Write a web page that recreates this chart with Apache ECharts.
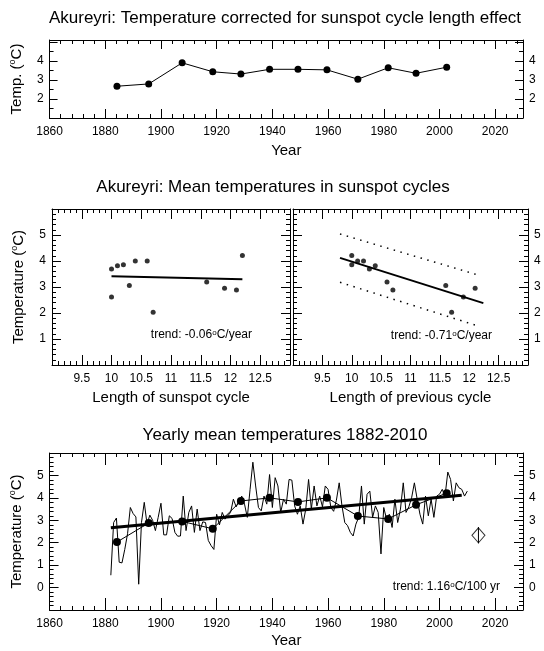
<!DOCTYPE html>
<html>
<head>
<meta charset="utf-8">
<title>Akureyri temperatures</title>
<script src="https://cdn.jsdelivr.net/npm/echarts@6/dist/echarts.min.js"></script>
<style>
html, body { margin: 0; padding: 0; background: #fff; }
#chart { width: 544px; height: 651px; }
</style>
</head>
<body>
<div id="chart"></div>
<script>
// middle year of each sunspot cycle (cycles 12..23)
var cycleYears = [1884.2, 1895.6, 1907.6, 1918.6, 1928.7, 1939.0, 1949.2, 1959.6, 1970.7, 1981.6, 1991.6, 2002.6];
// temperature corrected for cycle length effect
var cycleCorrected = [2.67, 2.79, 3.90, 3.43, 3.31, 3.56, 3.56, 3.53, 3.04, 3.64, 3.35, 3.67];
// mean temperature in each cycle
var cycleMeans = [2.03, 2.88, 2.95, 2.62, 3.86, 4.00, 3.82, 4.00, 3.19, 3.06, 3.69, 4.21];
// length of the cycle and of the previous cycle (years)
var cycleLength = [10.7, 12.1, 11.9, 10.0, 10.2, 10.4, 10.1, 10.6, 11.6, 10.3, 10.0, 12.2];
var prevLength = [11.7, 10.7, 12.1, 11.9, 10.0, 10.2, 10.4, 10.1, 10.6, 11.6, 10.3, 10.0];

// yearly mean temperatures 1882-2010
var firstYear = 1882;
var yearlyTemps = [
  0.55, 2.90, 3.10, 1.13, 1.10, 1.70, 2.40, 3.57, 3.30, 3.15,   // 1882-1891
  0.15, 2.90, 3.80, 2.83, 3.23, 3.00, 2.54, 3.13, 3.76, 2.35,   // 1892-1901
  2.35, 3.20, 3.08, 2.46, 2.29, 2.30, 4.08, 2.54, 3.35, 3.64,   // 1902-1911
  2.46, 3.50, 2.54, 2.93, 2.90, 2.10, 1.87, 1.70, 3.27, 2.79,   // 1912-1921
  3.35, 3.05, 3.20, 3.35, 3.94, 3.60, 3.86, 4.08, 3.72, 3.13,   // 1922-1931
  4.38, 5.59, 4.53, 3.57, 3.42, 4.08, 3.72, 5.04, 3.57, 4.90,   // 1932-1941
  4.53, 3.35, 3.94, 3.72, 4.82, 4.79, 3.64, 3.27, 3.64, 2.83,   // 1942-1951
  3.50, 4.82, 3.50, 4.53, 3.64, 4.08, 3.60, 4.53, 4.38, 3.57,   // 1952-1961
  3.40, 3.90, 4.67, 3.64, 2.90, 2.76, 2.46, 2.30, 2.83, 3.13,   // 1962-1971
  4.53, 2.83, 4.16, 4.30, 3.13, 3.64, 3.35, 1.50, 3.57, 3.05,   // 1972-1981
  3.27, 2.68, 3.94, 2.90, 3.50, 4.67, 3.35, 3.60, 4.00, 4.67,   // 1982-1991
  3.94, 3.27, 2.83, 4.08, 3.20, 3.94, 3.13, 4.08, 4.16, 4.38,   // 1992-2001
  4.08, 5.15, 4.82, 3.86, 4.67, 4.45, 4.38, 4.08, 4.30          // 2002-2010
];

// fitted lines
var trendLength = [[10.0, 3.41], [12.2, 3.30]];
var trendPrev = [[9.8, 4.12], [12.24, 2.38]];
var bandUpper = [[9.8, 5.04], [12.15, 3.46]];
var bandLower = [[9.8, 3.18], [12.15, 1.50]];
var trendYearly = [[1882, 2.67], [2008, 4.12]];
// open diamond with its bar
var marker = [[2014, 2.33]];
var markerBar = [[2014, 1.97], [2014, 2.70]];

var FONT = '"Liberation Sans", Arial, Helvetica, sans-serif';

function pairs(xs, ys) {
    return xs.map(function (x, i) { return [x, ys[i]]; });
}
var yearlyData = yearlyTemps.map(function (v, i) { return [firstYear + i, v]; });

var xAxes = [];
var yAxes = [];
var supRich = {
    s: { fontSize: 9, fontFamily: FONT, lineHeight: 9, verticalAlign: 'top', color: '#000' }
};
// long dash = solid tick; keeps the ticks out of zrender's path batching
var tickLine = { color: '#000', width: 1, type: [40, 1] };

// box of axes: main ticks + minor ticks on both sides, labels where asked
// axes sit on their own canvas layer (zlevel 1)
function addAxes(list, dim, grid, o) {
    var sides = dim === 'x' ? ['bottom', 'top'] : ['left', 'right'];
    var first = list.length;
    sides.forEach(function (pos, k) {
        list.push({
            type: 'value',
            gridIndex: grid,
            zlevel: 1,
            position: pos,
            min: o.min,
            max: o.max,
            interval: o.major,
            name: k === 0 ? (o.name || '') : '',
            nameLocation: 'middle',
            nameGap: o.nameGap,
            nameRotate: dim === 'y' ? 90 : 0,
            nameTextStyle: { color: '#000', fontSize: 15, fontFamily: FONT, lineHeight: 18, rich: supRich },
            axisLine: { show: true, onZero: false, lineStyle: { color: '#000', width: 1 } },
            axisTick: { show: true, inside: true, length: o.tick, lineStyle: tickLine },
            axisLabel: {
                show: !!o.labels[k],
                margin: o.margin,
                color: '#000',
                fontSize: 12,
                fontFamily: FONT,
                formatter: function (v) { return o.show(v) ? String(v) : ''; }
            },
            splitLine: { show: false }
        });
        // minor ticks
        list.push({
            type: 'value',
            gridIndex: grid,
            zlevel: 1,
            position: pos,
            min: o.min,
            max: o.max,
            interval: o.minor,
            axisLine: { show: false, onZero: false },
            axisTick: { show: true, inside: true, length: 4, lineStyle: tickLine },
            axisLabel: { show: false },
            splitLine: { show: false }
        });
    });
    return first;
}

function between(a, b) {
    return function (v) { return v >= a - 1e-9 && v <= b + 1e-9; };
}
function yearLabel(v) { return v % 20 === 0 && v <= 2020; }

// grid 0: corrected temperature
var gx0 = addAxes(xAxes, 'x', 0, { min: 1860, max: 2030, major: 20, minor: 4, tick: 9, margin: 8, labels: [true, false], show: yearLabel, name: 'Year', nameGap: 24 });
var gy0 = addAxes(yAxes, 'y', 0, { min: 1, max: 5.1, major: 1, minor: 0.5, tick: 8, margin: 6, labels: [true, true], show: between(2, 4), name: 'Temp. ({s|o}C)', nameGap: 20 });
// grid 1: temperature vs length of cycle
var gx1 = addAxes(xAxes, 'x', 1, { min: 9, max: 13, major: 0.5, minor: 0.1, tick: 10, margin: 8, labels: [true, false], show: between(9.5, 12.5), name: 'Length of sunspot cycle', nameGap: 24 });
var gy1 = addAxes(yAxes, 'y', 1, { min: 0, max: 6, major: 1, minor: 0.2, tick: 9, margin: 6, labels: [true, false], show: between(1, 5), name: 'Temperature ({s|o}C)', nameGap: 24 });
// grid 2: temperature vs length of previous cycle
var gx2 = addAxes(xAxes, 'x', 2, { min: 9, max: 13, major: 0.5, minor: 0.1, tick: 10, margin: 8, labels: [true, false], show: between(9.5, 12.5), name: 'Length of previous cycle', nameGap: 24 });
var gy2 = addAxes(yAxes, 'y', 2, { min: 0, max: 6, major: 1, minor: 0.2, tick: 9, margin: 6, labels: [false, true], show: between(1, 5) });
// grid 3: yearly means
var gx3 = addAxes(xAxes, 'x', 3, { min: 1860, max: 2030, major: 20, minor: 4, tick: 12, margin: 8, labels: [true, false], show: yearLabel, name: 'Year', nameGap: 22 });
var gy3 = addAxes(yAxes, 'y', 3, { min: -1, max: 6, major: 1, minor: 0.2, tick: 9, margin: 6, labels: [true, true], show: between(0, 5), name: 'Temperature ({s|o}C)', nameGap: 20 });

function lineSeries(xi, yi, data, width, extra) {
    var s = {
        type: 'line',
        xAxisIndex: xi,
        yAxisIndex: yi,
        data: data,
        symbol: 'none',
        lineStyle: { color: '#000', width: width },
        itemStyle: { color: '#000' }
    };
    for (var k in extra) s[k] = extra[k];
    return s;
}
function dotSeries(xi, yi, data, size) {
    return {
        type: 'scatter',
        xAxisIndex: xi,
        yAxisIndex: yi,
        data: data,
        symbol: 'circle',
        symbolSize: size,
        itemStyle: { color: '#000' }
    };
}

function textEl(x, y, text, size, align) {
    return {
        type: 'text',
        x: x,
        y: y,
        style: {
            text: text,
            fill: '#000',
            fontSize: size,
            fontFamily: FONT,
            align: align || 'center',
            verticalAlign: 'middle',
            rich: { s: { fontSize: size - 4, fontFamily: FONT, lineHeight: size - 4, verticalAlign: 'top' } }
        }
    };
}

var chart = echarts.init(document.getElementById('chart'), null, { renderer: 'canvas' });

var option = {
    animation: false,
    grid: [
        { left: 48, right: 21, top: 40, height: 78 },
        { left: 52, right: 254, top: 209, height: 156 },
        { left: 293, right: 16, top: 209, height: 156 },
        { left: 48, right: 21, top: 453, height: 160 }
    ],
    xAxis: xAxes,
    yAxis: yAxes,
    graphic: [
        textEl(285, 18, 'Akureyri: Temperature corrected for sunspot cycle length effect', 17),
        textEl(273, 187, 'Akureyri: Mean temperatures in sunspot cycles', 17),
        textEl(285, 435, 'Yearly mean temperatures 1882-2010', 17),
        textEl(252, 335, 'trend: -0.06{s|o}C/year', 12, 'right'),
        textEl(492, 336, 'trend: -0.71{s|o}C/year', 12, 'right'),
        textEl(500, 587, 'trend: 1.16{s|o}C/100 yr', 12, 'right')
    ],
    series: [
        // top panel
        lineSeries(gx0, gy0, pairs(cycleYears, cycleCorrected), 1, { symbol: 'circle', symbolSize: 7, showSymbol: true }),
        // length of cycle
        dotSeries(gx1, gy1, pairs(cycleLength, cycleMeans), 5),
        lineSeries(gx1, gy1, trendLength, 2),
        // length of previous cycle
        lineSeries(gx2, gy2, bandUpper, 1.5, { lineStyle: { color: '#000', width: 1.5, type: [1.5, 5.5] } }),
        lineSeries(gx2, gy2, bandLower, 1.5, { lineStyle: { color: '#000', width: 1.5, type: [1.5, 5.5] } }),
        lineSeries(gx2, gy2, trendPrev, 2),
        dotSeries(gx2, gy2, pairs(prevLength, cycleMeans), 5),
        // yearly means
        lineSeries(gx3, gy3, yearlyData, 1),
        lineSeries(gx3, gy3, trendYearly, 3),
        lineSeries(gx3, gy3, pairs(cycleYears, cycleMeans), 1, { symbol: 'circle', symbolSize: 8, showSymbol: true }),
        {
            type: 'scatter',
            xAxisIndex: gx3,
            yAxisIndex: gy3,
            data: marker,
            symbol: 'diamond',
            symbolSize: [13, 15],
            itemStyle: { color: '#fff', borderColor: '#000', borderWidth: 1 }
        },
        lineSeries(gx3, gy3, markerBar, 1)
    ]
};

chart.setOption(option);
</script>
</body>
</html>
